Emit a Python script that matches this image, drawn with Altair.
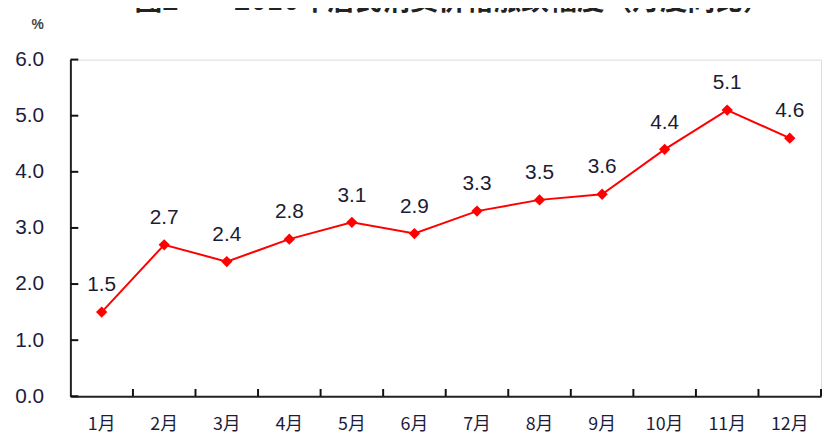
import altair as alt
import pandas as pd

months = ["1月", "2月", "3月", "4月", "5月", "6月", "7月", "8月", "9月", "10月", "11月", "12月"]
values = [1.5, 2.7, 2.4, 2.8, 3.1, 2.9, 3.3, 3.5, 3.6, 4.4, 5.1, 4.6]
y_ticks = [0, 1, 2, 3, 4, 5, 6]
title_text = "图2\u3000\u30002010年居民消费价格涨跌幅度（月度同比）"
unit_text = "%"

df = pd.DataFrame({"month": months, "value": values})
df["label"] = [f"{v:.1f}" for v in values]
yt = pd.DataFrame({"v": y_ticks})

W, H = 758, 340
half_band = W / len(months) / 2

xscale = alt.Scale(paddingInner=0, paddingOuter=0, align=0.5)
yscale = alt.Scale(domain=[0, 6], nice=False)

x = alt.X("month:N", sort=months, scale=xscale,
          axis=alt.Axis(title=None, labelAngle=0, labelFont="Noto Sans CJK SC",
                        labelFontSize=18, labelColor="#1c1c3c", labelPadding=20,
                        ticks=False, domainColor="#222222", domainWidth=2,
                        grid=False))
y = alt.Y("value:Q", scale=yscale,
          axis=alt.Axis(title=None, values=y_ticks, format=".1f",
                        labelFont="Liberation Sans", labelFontSize=21,
                        labelColor="#1c1c44", labelPadding=27, ticks=False,
                        domainColor="#222222", domainWidth=2, grid=False))

base = alt.Chart(df)
line = base.mark_line(color="#ff0000", strokeWidth=2).encode(x=x, y=y)
pts = base.mark_point(shape="diamond", filled=True, color="#ff0000", size=130, opacity=1).encode(
    x=x, y=y)
labels = base.mark_text(font="Liberation Sans", fontSize=21, color="#1c1c33", dy=-27).encode(
    x=x, y=y, text="label:N")

# inward ticks drawn as short rules
xticks = base.mark_rule(color="#111111", strokeWidth=2, xOffset=half_band).encode(
    x=alt.X("month:N", sort=months, scale=xscale),
    y=alt.Y(datum=0, scale=yscale), y2=alt.datum(0.13))
yticks = alt.Chart(yt).mark_rule(color="#111111", strokeWidth=2).encode(
    y=alt.Y("v:Q", scale=yscale), x=alt.value(0), x2=alt.value(8))

title = alt.Chart(pd.DataFrame({"t": [title_text]})).mark_text(
    font="Noto Sans CJK SC", fontSize=28, fontWeight="bold", color="#222222",
    baseline="bottom", align="center").encode(
    text="t:N", x=alt.value(386), y=alt.value(-44))

unit = alt.Chart(pd.DataFrame({"t": [unit_text]})).mark_text(
    font="Liberation Sans", fontSize=14, fontWeight="bold", color="#444444",
    align="center", baseline="middle").encode(
    text="t:N", x=alt.value(-33), y=alt.value(-35))

chart = alt.layer(line, xticks, yticks, pts, labels, title, unit).properties(
    width=W, height=H,
    autosize=alt.AutoSizeParams(type="none"),
    padding={"left": 63, "top": 50, "right": 3, "bottom": 37},
).resolve_scale(x="shared", y="shared").configure_view(stroke=None).configure(background="white")

chart.save("out.html", embed_options={"renderer": "svg", "actions": False})
